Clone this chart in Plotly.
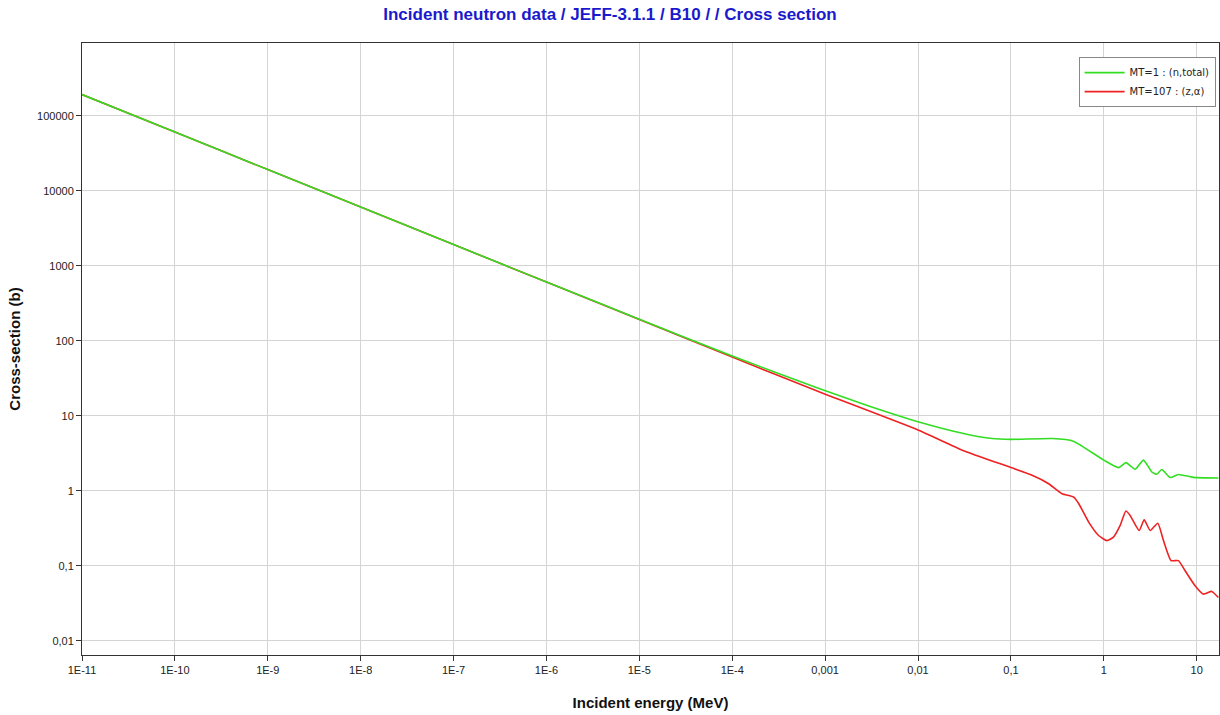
import plotly.graph_objects as go

# Energies (MeV) and cross sections (barns)
energy_total = [1e-11, 1e-10, 1e-9, 1e-8, 1e-7, 1e-6, 1e-5, 1e-4, 8.6e-4, 3e-3, 0.01, 0.03,
                0.063, 0.1, 0.28, 0.47, 1.0, 1.44, 1.73, 2.18, 2.67, 3.29, 3.72, 4.21,
                5.18, 6.35, 9.2, 17.1]
sigma_total = [193000, 61000, 19300, 6110, 1930, 612, 195, 63, 23.2, 13.5, 8.4, 5.9,
               5.0, 4.87, 5.0, 4.62, 2.58, 2.05, 2.39, 1.95, 2.58, 1.79, 1.67, 1.93,
               1.51, 1.66, 1.52, 1.49]

energy_alpha = [1e-11, 1e-10, 1e-9, 1e-8, 1e-7, 1e-6, 1e-5, 1e-4, 8.6e-4, 0.01, 0.03,
                0.1, 0.169, 0.255, 0.355, 0.474, 0.536, 0.687, 0.879, 1.08, 1.27, 1.50,
                1.73, 1.92, 2.40, 2.72, 3.16, 3.81, 4.39, 5.30, 6.35, 7.50, 9.6, 11.8,
                14.5, 17.1]
sigma_alpha = [193000, 61000, 19300, 6100, 1930, 610, 193, 61, 21.0, 6.5, 3.5,
               2.05, 1.62, 1.25, 0.92, 0.83, 0.68, 0.385, 0.255, 0.218, 0.242, 0.347,
               0.54, 0.472, 0.297, 0.413, 0.297, 0.372, 0.218, 0.118, 0.118, 0.0865,
               0.0546, 0.0422, 0.0458, 0.038]

x_tickvals = [1e-11, 1e-10, 1e-9, 1e-8, 1e-7, 1e-6, 1e-5, 1e-4, 1e-3, 1e-2, 1e-1, 1, 10]
x_ticktext = ["1E-11", "1E-10", "1E-9", "1E-8", "1E-7", "1E-6", "1E-5", "1E-4",
              "0,001", "0,01", "0,1", "1", "10"]
y_tickvals = [0.01, 0.1, 1, 10, 100, 1000, 10000, 100000]
y_ticktext = ["0,01", "0,1", "1", "10", "100", "1000", "10000", "100000"]

fig = go.Figure()
fig.add_trace(go.Scatter(x=energy_alpha, y=sigma_alpha, mode="lines",
                         name="MT=107 : (z,α)", legendrank=2,
                         line=dict(color="#ee2222", width=1.6, shape="spline", smoothing=0.5)))
fig.add_trace(go.Scatter(x=energy_total, y=sigma_total, mode="lines",
                         name="MT=1 : (n,total)", legendrank=1,
                         line=dict(color="#33dd22", width=1.6, shape="spline", smoothing=0.5)))

axis_common = dict(showline=True, linecolor="#333333", linewidth=1, mirror=True,
                   showgrid=True, gridcolor="#d4d4d4", gridwidth=1,
                   ticks="outside", ticklen=5, tickcolor="#333333",
                   tickfont=dict(family="Liberation Sans, Arial", size=11, color="#222222"),
                   zeroline=False, automargin=False)

fig.update_layout(
    width=1220, height=715,
    paper_bgcolor="white", plot_bgcolor="white",
    margin=dict(l=82, r=1, t=43, b=60, autoexpand=False),
    title=dict(text="<b>Incident neutron data / JEFF-3.1.1 / B10 / / Cross section</b>",
               x=0.5, xanchor="center", y=0.980, yanchor="middle",
               font=dict(family="Liberation Sans, Arial", size=17, color="#1a1acc")),
    xaxis=dict(type="log", range=[-11, 1.24], tickvals=x_tickvals, ticktext=x_ticktext,
               title=dict(text="<b>Incident energy (MeV)</b>", standoff=22,
                          font=dict(family="Liberation Sans, Arial", size=15, color="#111111")),
               **axis_common),
    yaxis=dict(type="log", range=[-2.187, 5.973], tickvals=y_tickvals, ticktext=y_ticktext,
               title=dict(text="<b>Cross-section (b)</b>", standoff=12,
                          font=dict(family="Liberation Sans, Arial", size=15, color="#111111")),
               **axis_common),
    legend=dict(x=0.997, y=0.977, xanchor="right", yanchor="top",
                bgcolor="white", bordercolor="#888888", borderwidth=1,
                font=dict(family="DejaVu Sans, Verdana", size=10, color="#222222"),
                tracegroupgap=0, itemwidth=40),
    showlegend=True,
)

fig.write_html("out.html", config={"displayModeBar": False},
               post_script="document.body.style.margin='0';document.body.style.overflow='hidden';")
